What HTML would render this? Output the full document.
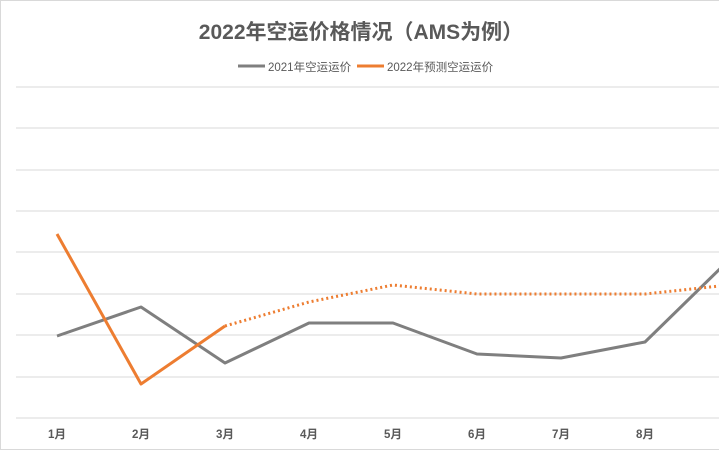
<!DOCTYPE html>
<html><head><meta charset="utf-8"><style>
body{margin:0;background:#fff;}
svg{display:block;font-family:"Liberation Sans","Noto Sans CJK SC",sans-serif;}
</style></head><body>
<svg width="719" height="451" viewBox="0 0 719 451">
<rect x="0.5" y="0.5" width="730" height="449" fill="#fff" stroke="#d9d9d9"/>
<text x="361" y="39" text-anchor="middle" font-size="21" font-weight="bold" fill="#595959">2022年空运价格情况（AMS为例）</text>
<line x1="238" y1="66" x2="265" y2="66" stroke="#7f7f7f" stroke-width="3"/>
<text x="268" y="71" font-size="11.5" fill="#595959">2021年空运运价</text>
<line x1="357" y1="66" x2="384" y2="66" stroke="#ed7d31" stroke-width="3"/>
<text x="387" y="71" font-size="11.5" fill="#595959">2022年预测空运运价</text>
<g stroke="#d9d9d9" stroke-width="1">
<line x1="16" y1="87" x2="719" y2="87"/><line x1="16" y1="128" x2="719" y2="128"/>
<line x1="16" y1="170" x2="719" y2="170"/><line x1="16" y1="211" x2="719" y2="211"/>
<line x1="16" y1="252" x2="719" y2="252"/><line x1="16" y1="294" x2="719" y2="294"/>
<line x1="16" y1="335" x2="719" y2="335"/><line x1="16" y1="377" x2="719" y2="377"/>
<line x1="16" y1="418" x2="719" y2="418"/>
</g>
<polyline fill="none" stroke="#7f7f7f" stroke-width="3" stroke-linejoin="round" points="57,336 141,307 225,363 309,323 393,323 477,354 561,358 645,342 729,260"/>
<polyline fill="none" stroke="#ed7d31" stroke-width="3" stroke-linejoin="round" points="57,234 141,384 225,326"/>
<polyline fill="none" stroke="#ed7d31" stroke-width="3" stroke-dasharray="2,3" points="225,326 309,302 393,285 477,294 561,294 645,294 729,285"/>
<g font-size="11.5" font-weight="bold" fill="#595959" text-anchor="middle">
<text x="57" y="438">1月</text><text x="141" y="438">2月</text><text x="225" y="438">3月</text>
<text x="309" y="438">4月</text><text x="393" y="438">5月</text><text x="477" y="438">6月</text>
<text x="561" y="438">7月</text><text x="645" y="438">8月</text>
</g>
</svg>
</body></html>
